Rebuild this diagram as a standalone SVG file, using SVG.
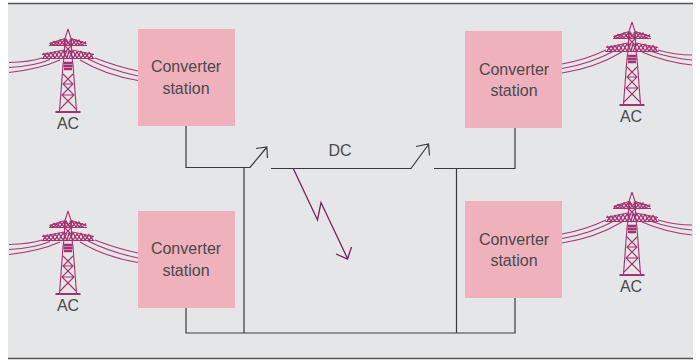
<svg xmlns="http://www.w3.org/2000/svg" width="700" height="361" viewBox="0 0 700 361">
<style>
.box{fill:#efb1bb}
.lbl{font-family:"Liberation Sans",Arial,sans-serif;font-size:16px;fill:#4a4a4a;text-anchor:middle}
.wire{fill:none;stroke:#a83a72;stroke-width:1.1}
.tw{fill:none;stroke:#a5326e;stroke-width:1.1}
.conn{fill:none;stroke:#3a3a3a;stroke-width:1.2}
.bolt{fill:none;stroke:#7b1f55;stroke-width:1.3}
</style>
<defs>
<g id="tower">
<path class="tw" d="M0-83L-3.500-72V-58L-5-47L-8.500-1M0-83L3.500-72V-58L5-47L8.500-1"/>
<path class="tw" style="stroke-width:2" d="M-12.500 0H12.500"/>
<path class="tw" d="M-5-38L5-28L-6-17L8-3M5-38L-5-28L6-17L-8-3M-5-28H5M-6-17H6"/>
<path class="tw" style="stroke-width:2.400" d="M-4.500-49H4.500M-4.500-46H4.500M-4-43H4"/>
<path class="tw" d="M-18.500-68.500L-3-73.500M18.500-68.500L3-73.500M-19-66.500H19M-26-57.500L-4-62M26-57.500L4-62M-26.500-53.500H26.500"/>
<path class="tw" style="stroke-width:1.300" d="M-18-67L-14-70.500L-11-67L-8-72L-4-67L-2-73L2-67L4-73L8-67L11-72L14-67L18-70.500M-18-69L-14-67L-11-70.500L-8-67L-4-72L-2-67M2-73L4-67L8-72L11-67L14-70.500L18-68"/>
<path class="tw" style="stroke-width:1.300" d="M-25-54L-21-59L-17-54L-13-60L-9-54L-5-61L-1-54L1-61L5-54L9-60L13-54L17-59L21-54L25-58"/>
<path class="tw" style="stroke-width:1.300" d="M-25-59L-21-54L-17-59.500L-13-54L-9-60.500L-5-54L-1-61M1-54L5-61L9-54L13-60.500L17-54L21-59.500L25-54"/>
<path class="tw" d="M-3-72L3-66L-3-60M3-72L-3-66L3-60"/>
</g>
</defs>
<rect x="8" y="4" width="685" height="354" fill="#e5e6e8"/>
<path d="M8 3.500H693M8 358.500H693" stroke="#555" stroke-width="1.300" fill="none"/>

<g id="connectors">
<path class="conn" d="M186 126V167.500H250L266.500 147.500M256 148.500L266.800 147L267.500 158"/>
<path class="conn" d="M271 168.500H411L428.500 144.500M416 146.500L428.500 144L429.500 155.500"/>
<path class="conn" d="M434 168.500H515V128"/>
<path class="conn" d="M244 167.500V333M456.500 168.500V333"/>
<path class="conn" d="M186 308V333H515V298"/>
<path class="bolt" d="M293.500 169L317.500 220L321 202.500L347.500 258.500M336 254L347.500 259L351.500 247"/>
</g>

<g id="ac-top-left">
<path class="wire" d="M9 62.500Q30 62 42 58M9 67.500Q35 66 50 59.500M9 72.500Q40 69 60 60M95 58Q115 66 138 71M88 59Q110 70 138 76M80 60Q105 75 138 80.500"/>
<use href="#tower" x="68" y="112"/>
<text class="lbl" x="68" y="129">AC</text>
</g>
<g id="ac-bottom-left">
<path class="wire" d="M9 244.500Q30 244 42 240M9 249.500Q35 248 50 241.500M9 254.500Q40 251 60 242M95 240Q115 248 138 253M88 241Q110 252 138 258M80 242Q105 257 138 262.500"/>
<use href="#tower" x="68" y="294"/>
<text class="lbl" x="68" y="311">AC</text>
</g>
<g id="ac-top-right">
<path class="wire" d="M562 64Q585 60 606 50M562 68.500Q590 64 614 51M562 73Q595 68 622 52M658 50Q675 55 692 55M650 51Q670 58 692 60M642 52Q665 62 692 65"/>
<use href="#tower" x="632" y="105"/>
<text class="lbl" x="631" y="121.500">AC</text>
</g>
<g id="ac-bottom-right">
<path class="wire" d="M562 234Q585 230 606 220M562 238.500Q590 234 614 221M562 243Q595 238 622 222M658 220Q675 225 692 225M650 221Q670 228 692 230M642 222Q665 232 692 235"/>
<use href="#tower" x="632" y="275"/>
<text class="lbl" x="631" y="291.500">AC</text>
</g>

<g id="station-top-left"><rect class="box" x="138" y="29" width="97" height="97"/><text class="lbl" x="186" y="72">Converter</text><text class="lbl" x="186" y="94">station</text></g>
<g id="station-bottom-left"><rect class="box" x="138" y="211" width="97" height="97"/><text class="lbl" x="186" y="254">Converter</text><text class="lbl" x="186" y="276">station</text></g>
<g id="station-top-right"><rect class="box" x="465" y="31" width="97" height="97"/><text class="lbl" x="514" y="75">Converter</text><text class="lbl" x="514" y="96">station</text></g>
<g id="station-bottom-right"><rect class="box" x="465" y="201" width="97" height="97"/><text class="lbl" x="514" y="245">Converter</text><text class="lbl" x="514" y="266">station</text></g>
<g id="dc-label"><text class="lbl" x="340" y="156">DC</text></g>
</svg>
